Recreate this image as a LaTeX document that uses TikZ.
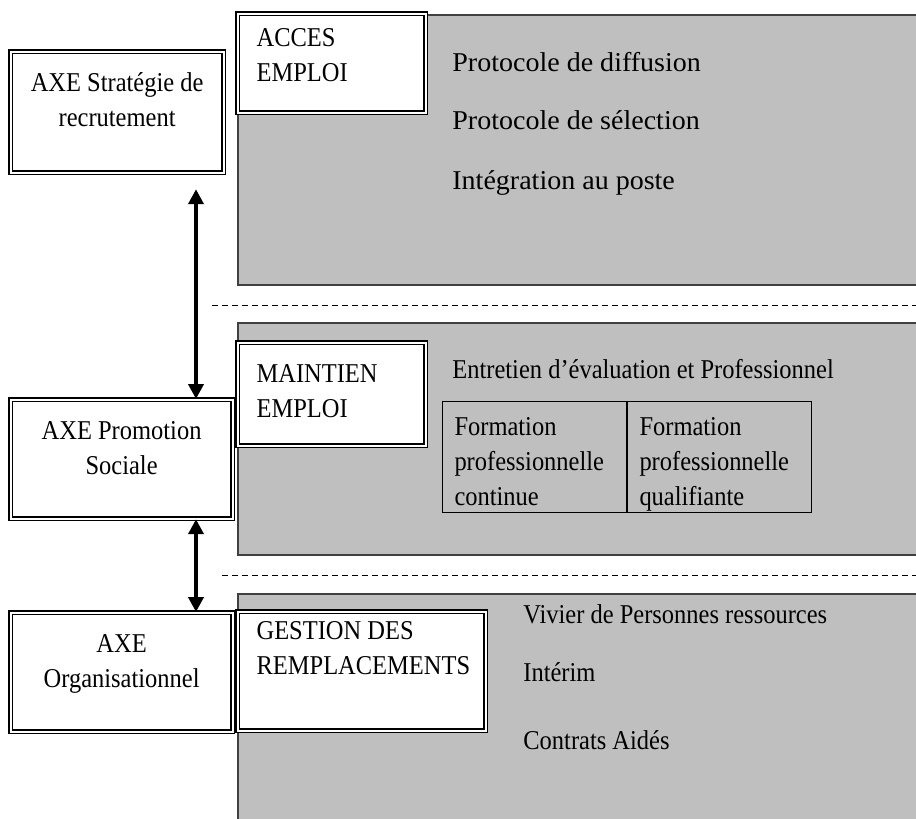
\documentclass[tikz,border=0pt]{standalone}
\usepackage{fontspec}
\setmainfont{Liberation Serif}[FakeStretch=0.9]
\newfontfamily\wideserif{Liberation Serif}[FakeStretch=1.03]
\usetikzlibrary{arrows.meta}

\begin{document}
\begin{tikzpicture}
[x=0.5pt, y=-0.5pt,
axe/.style={draw, double, double distance=1pt, line width=0.6pt, fill=white, inner sep=0pt, align=flush center, text height=20pt, anchor=north west},
head/.style={draw, double, double distance=1pt, line width=0.6pt, fill=white, inner xsep=9.5pt, inner ysep=0pt, align=flush left, anchor=north west},
panel/.style={fill=black!25, draw=black!75, line width=0.6pt},
cell/.style={draw, line width=0.5pt, inner xsep=6pt, inner ysep=0pt, align=flush left, text width=80pt, text height=17pt, text depth=38.5pt, anchor=north west},
item/.style={anchor=base west, inner sep=0pt},
biarrow/.style={{Triangle[length=7.5pt,width=7.5pt]}-{Triangle[length=7.5pt,width=7.5pt]}, line width=2pt},
sep/.style={dash pattern=on 3pt off 2pt, line width=0.5pt}
]
\tikzset{every node/.style={font=\fontsize{13.6}{17.5}\selectfont}}
\useasboundingbox (0,0) rectangle (916,819);

% grey bands
\path[panel] (916,15) -| (238,285) -- (916,285);
\path[panel] (916,323) -| (238,555) -- (916,555);
\path[panel] (916,594) -| (238,830) -- (916,830);
\draw[sep] (212,305) -- (916,305);
\draw[sep] (222,575) -- (916,575);

% axes
\node[axe, text width=106.5pt, text depth=40.5pt] (strat) at (10,51) {AXE Stratégie de\\recrutement};
\node[axe, text width=111pt, text depth=39.5pt] (promo) at (10,399) {AXE Promotion\\Sociale};
\node[axe, text width=111pt, text depth=39.5pt] (orga) at (10,612) {AXE\\Organisationnel};

% band titles
\node[head, text width=75pt, text height=16.5pt, text depth=33pt] (acces) at (237,13) {ACCES\\EMPLOI};
\node[head, text width=75pt, text height=20pt, text depth=31.5pt] (maint) at (237,342) {MAINTIEN\\EMPLOI};
\node[head, text width=105pt, text height=14pt, text depth=45.5pt] (gest) at (237,611) {GESTION DES\\REMPLACEMENTS};

% band contents
\node[item, font=\wideserif\fontsize{13.6}{17.5}\selectfont] (diff) at (452,71) {Protocole de diffusion};
\node[item, font=\wideserif\fontsize{13.6}{17.5}\selectfont] (selec) at (452,129) {Protocole de sélection};
\node[item, font=\wideserif\fontsize{13.6}{17.5}\selectfont] (integ) at (452,189) {Intégration au poste};
\node[item] (entre) at (452,378) {Entretien d’évaluation et Professionnel};
\node[cell] (cont) at (442,401) {Formation\\professionnelle\\continue};
\node[cell] (qual) at (cont.north east) {Formation\\professionnelle\\qualifiante};
\node[item] (vivier) at (523,623) {Vivier de Personnes ressources};
\node[item] (interim) at (523,681) {Intérim};
\node[item] (contrat) at (523,749) {Contrats Aidés};

% links between axes
\coordinate (axis) at (196,0);
\draw[biarrow, shorten <=8pt] (strat.south -| axis) -- (promo.north -| axis);
\draw[biarrow] (promo.south -| axis) -- (orga.north -| axis);
\end{tikzpicture}
\end{document}
